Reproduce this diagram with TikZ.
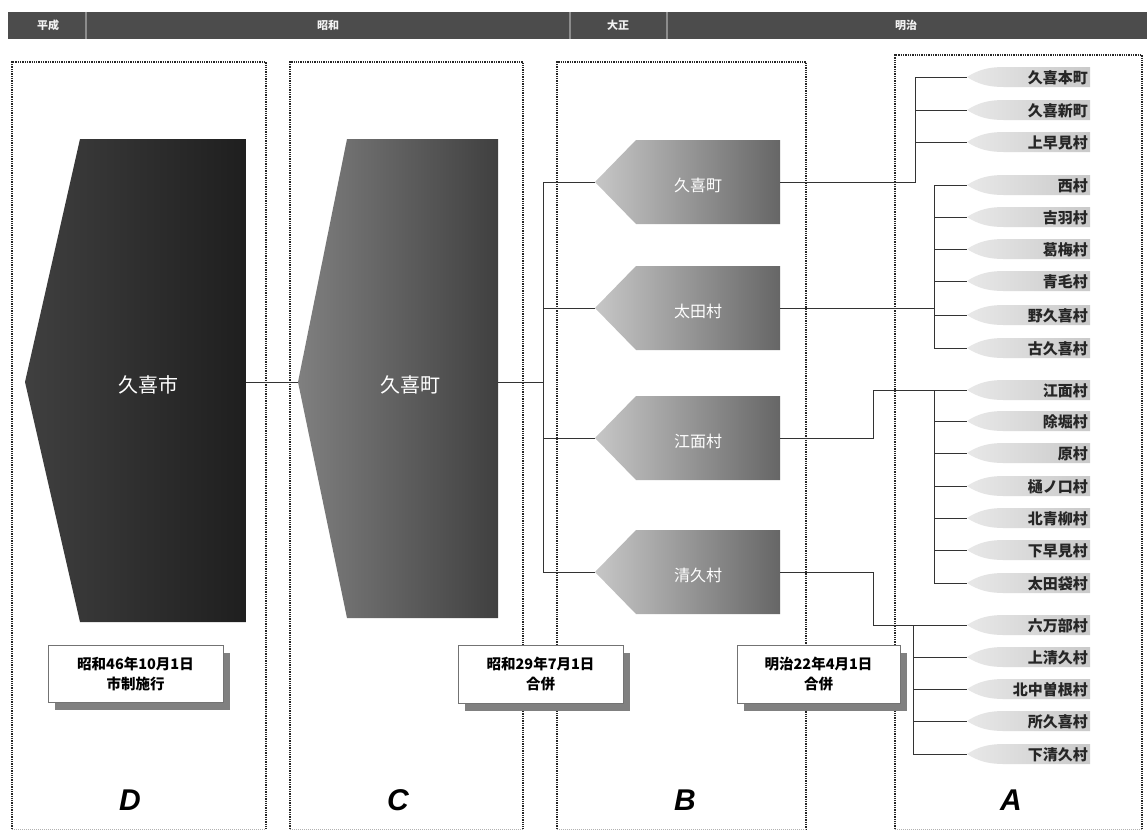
\documentclass[tikz,border=0pt]{standalone}
\usepackage{fontspec}
\setmainfont{Noto Sans CJK JP}
\newfontfamily\latinfont{Liberation Sans}
\usetikzlibrary{shadows}
\newcommand\Aitem[3]{%
  \shade[left color=black!9, right color=black!21]
    (967,#2) .. controls (978,#2-7) and (988,#2-10) .. (1004,#2-10)
    -- (1090,#2-10) -- (1090,#2+10) -- (1004,#2+10)
    .. controls (988,#2+10) and (978,#2+7) .. (967,#2) -- cycle;
  \coordinate (#1t) at (967,#2);
  \node[atxt] (#1) at (1088,#2+1) {#3};
}
\newcommand\Bshape[4]{%
  \shade[left color=black!22, right color=black!60]
    (595,#2) -- (636,#2-42) -- (780,#2-42) -- (780,#2+42) -- (636,#2+42) -- cycle;
  \coordinate (#1t) at (595,#2);
  \coordinate (#1r) at (780,#2);
  \node[btxt] (#1) at (698,#2+3) {#3};
}
\begin{document}
\begin{tikzpicture}[x=1pt,y=-1pt,
  colbox/.style={draw=black!85, line width=1.3pt, densely dotted},
  colbot/.style={draw=black!30, line width=1pt, densely dotted},
  conn/.style={draw=black!80, line width=1pt},
  bigtxt/.style={text=white, font=\fontsize{20}{20}\selectfont},
  btxt/.style={text=white, font=\fontsize{16}{16}\selectfont},
  atxt/.style={text=black!85, font=\bfseries\fontsize{15}{15}\selectfont, anchor=east, inner sep=0pt},
  datebox/.style={draw=black!55, line width=0.6pt, fill=white, align=center, inner sep=0pt,
    font=\bfseries\fontsize{14.5}{20}\selectfont,
    drop shadow={shadow xshift=7pt, shadow yshift=-8pt, fill=black!50, opacity=1}},
  hdr/.style={text=black!5, font=\bfseries\fontsize{11}{11}\selectfont},
  letter/.style={font=\latinfont\bfseries\itshape\fontsize{30}{30}\selectfont, text=black},
]
\useasboundingbox (0,0) rectangle (1147,831);
\fill[white] (0,0) rectangle (1147,831);

% header
\fill[black!70] (8,12) rectangle (1147,39);
\draw[black!45, line width=1.5pt] (86,12) -- (86,39) (570,12) -- (570,39) (667,12) -- (667,39);
\node[hdr] (hH) at (48,25) {平成};
\node[hdr] (hS) at (328,25) {昭和};
\node[hdr] (hT) at (618,25) {大正};
\node[hdr] (hM) at (906,25) {明治};

% column frames
\draw[colbox] (12,829) -- (12,62) -- (266,62) -- (266,829);
\draw[colbox] (290,829) -- (290,62) -- (523,62) -- (523,829);
\draw[colbox] (557,829) -- (557,62) -- (806,62) -- (806,829);
\draw[colbox] (895,829) -- (895,55) -- (1142,55) -- (1142,829);
\draw[colbot] (12,829) -- (266,829) (290,829) -- (523,829) (557,829) -- (806,829) (895,829) -- (1142,829);

% D
\shade[left color=black!75, right color=black!88]
  (25,382) -- (80,139) -- (246,139) -- (246,622) -- (80,622) -- cycle;
\coordinate (Dr) at (246,382);
\node[bigtxt] (D) at (148,385) {久喜市};

% C
\shade[left color=black!50, right color=black!75]
  (298,382) -- (347,139) -- (498,139) -- (498,618) -- (347,618) -- cycle;
\coordinate (Ct) at (298,382);
\coordinate (Cr) at (498,382);
\node[bigtxt] (C) at (410,385) {久喜町};

% B
\Bshape{b1}{182}{久喜町}{}
\Bshape{b2}{308}{太田村}{}
\Bshape{b3}{438}{江面村}{}
\Bshape{b4}{572}{清久村}{}

% A
\Aitem{a1}{77}{久喜本町}
\Aitem{a2}{110}{久喜新町}
\Aitem{a3}{142}{上早見村}
\Aitem{a4}{185}{西村}
\Aitem{a5}{217}{吉羽村}
\Aitem{a6}{249}{葛梅村}
\Aitem{a7}{281}{青毛村}
\Aitem{a8}{315}{野久喜村}
\Aitem{a9}{348}{古久喜村}
\Aitem{a10}{390}{江面村}
\Aitem{a11}{421}{除堀村}
\Aitem{a12}{453}{原村}
\Aitem{a13}{486}{樋ノ口村}
\Aitem{a14}{518}{北青柳村}
\Aitem{a15}{550}{下早見村}
\Aitem{a16}{583}{太田袋村}
\Aitem{a17}{625}{六万部村}
\Aitem{a18}{657}{上清久村}
\Aitem{a19}{689}{北中曽根村}
\Aitem{a20}{721}{所久喜村}
\Aitem{a21}{754}{下清久村}

% connectors D-C-B
\coordinate (J) at (543,382);
\draw[conn] (Dr) -- (Ct);
\draw[conn] (Cr) -- (J);
\draw[conn] (J |- b1t) -- (J |- b4t);
\foreach \b in {b1,b2,b3,b4} \draw[conn] (J |- \b t) -- (\b t);

% B-A
\coordinate (k1) at (915,0);
\coordinate (k2) at (934,0);
\coordinate (k3) at (873,0);
\coordinate (k4) at (913,0);
\draw[conn] (b1r) -- (k1 |- b1r) -- (k1 |- a1t) -- (a1t);
\foreach \a in {a2,a3} \draw[conn] (k1 |- \a t) -- (\a t);
\draw[conn] (b2r) -- (k2 |- b2r);
\draw[conn] (k2 |- a4t) -- (k2 |- a9t);
\foreach \a in {a4,a5,a6,a7,a8,a9} \draw[conn] (k2 |- \a t) -- (\a t);
\draw[conn] (b3r) -- (k3 |- b3r) -- (k3 |- a10t) -- (a10t);
\draw[conn] (k2 |- a10t) -- (k2 |- a16t);
\foreach \a in {a11,a12,a13,a14,a15,a16} \draw[conn] (k2 |- \a t) -- (\a t);
\draw[conn] (b4r) -- (k3 |- b4r) -- (k3 |- a17t) -- (a17t);
\draw[conn] (k4 |- a17t) -- (k4 |- a21t);
\foreach \a in {a18,a19,a20,a21} \draw[conn] (k4 |- \a t) -- (\a t);

% date boxes
\node[datebox, minimum width=175pt, minimum height=57pt] (dD) at (135.5,673.5) {昭和46年10月1日\\市制施行};
\node[datebox, minimum width=165pt, minimum height=58pt] (dC) at (540.5,674) {昭和29年7月1日\\合併};
\node[datebox, minimum width=163pt, minimum height=58pt] (dB) at (818.5,674) {明治22年4月1日\\合併};

% letters
\node[letter] (LD) at (130,800) {D};
\node[letter] (LC) at (398,800) {C};
\node[letter] (LB) at (685,800) {B};
\node[letter] (LA) at (1011,800) {A};
\end{tikzpicture}
\end{document}
